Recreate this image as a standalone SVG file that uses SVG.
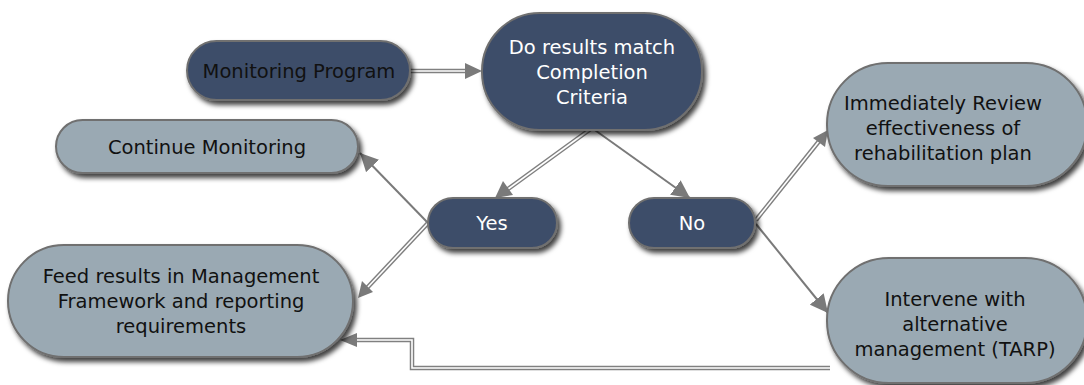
<svg xmlns="http://www.w3.org/2000/svg" width="1084" height="385" viewBox="0 0 1084 385">
<defs>
<filter id="sh" x="-20%" y="-20%" width="140%" height="150%">
<feDropShadow dx="3" dy="4" stdDeviation="2.5" flood-color="#000" flood-opacity="0.75"/>
</filter>
<marker id="ah" viewBox="0 0 10 10" refX="10" refY="5" markerWidth="18" markerHeight="18" markerUnits="userSpaceOnUse" orient="auto">
<path d="M0,0 L10,5 L0,10 z" fill="#7a7a7a"/>
</marker>
</defs>
<style>
.dark{fill:#3e4d69;stroke:#6f6f6f;stroke-width:2;filter:url(#sh)}
.light{fill:#9aa9b3;stroke:#6f6f6f;stroke-width:2;filter:url(#sh)}
text{font-family:"DejaVu Sans",Verdana,sans-serif;font-size:19.5px;text-anchor:middle}
.wt{fill:#ffffff}
.bt{fill:#111111}
.dbl{fill:none;stroke:#808080;stroke-width:4.5}
.core{fill:none;stroke:#ffffff;stroke-width:1.6}
.sgl{fill:none;stroke:#7a7a7a;stroke-width:2}
</style>
<g id="connectors">
<path class="dbl" d="M410,71 L470,71" />
<path class="core" d="M410,71 L470,71" />
<path d="M465,63 L482,71 L465,79 z" fill="#7a7a7a"/>
<path class="dbl" d="M592,128 L508,189" />
<path class="core" d="M592,128 L508,189" />
<path d="M495,198 L503,181 L513,195 z" fill="#7a7a7a"/>
<path class="sgl" d="M592,128 L690,198" marker-end="url(#ah)"/>
<path class="sgl" d="M428,223 L360,153" marker-end="url(#ah)"/>
<path class="dbl" d="M428,223 L366,289" />
<path class="core" d="M428,223 L366,289" />
<path d="M358,298 L362,281 L373,292 z" fill="#7a7a7a"/>
<path class="dbl" d="M756,220 L820,140" />
<path class="core" d="M756,220 L820,140" />
<path d="M828,130 L825,147 L813,138 z" fill="#7a7a7a"/>
<path class="sgl" d="M756,224 L828,313" marker-end="url(#ah)"/>
<path class="dbl" d="M830,368 L412,368 L412,340 L354,340" />
<path class="core" d="M830,368 L412,368 L412,340 L354,340" />
<path d="M340,340 L357,333 L357,347 z" fill="#7a7a7a"/>
</g>
<g id="monitoring-program">
<rect class="dark" x="187" y="41" width="223" height="59" rx="29.5"/>
<text class="bt" x="299" y="78">Monitoring Program</text>
</g>
<g id="do-results">
<rect class="dark" x="482" y="13" width="220" height="117" rx="58"/>
<text class="wt" x="592" y="54">Do results match</text>
<text class="wt" x="592" y="79">Completion</text>
<text class="wt" x="592" y="104">Criteria</text>
</g>
<g id="continue-monitoring">
<rect class="light" x="56" y="120" width="302" height="53" rx="26.5"/>
<text class="bt" x="207" y="154">Continue Monitoring</text>
</g>
<g id="yes">
<rect class="dark" x="428" y="198" width="129" height="50" rx="25"/>
<text class="wt" x="492" y="230">Yes</text>
</g>
<g id="no">
<rect class="dark" x="629" y="198" width="126" height="50" rx="25"/>
<text class="wt" x="692" y="230">No</text>
</g>
<g id="feed-results">
<rect class="light" x="8" y="245" width="345" height="112" rx="56"/>
<text class="bt" x="181" y="283">Feed results in Management</text>
<text class="bt" x="181" y="308">Framework and reporting</text>
<text class="bt" x="181" y="333">requirements</text>
</g>
<g id="immediately-review">
<rect class="light" x="827" y="63" width="260" height="123" rx="61"/>
<text class="bt" x="943" y="110">Immediately Review</text>
<text class="bt" x="943" y="135">effectiveness of</text>
<text class="bt" x="943" y="160">rehabilitation plan</text>
</g>
<g id="intervene">
<rect class="light" x="827" y="258" width="260" height="125" rx="62"/>
<text class="bt" x="955" y="306">Intervene with</text>
<text class="bt" x="955" y="331">alternative</text>
<text class="bt" x="955" y="356">management (TARP)</text>
</g>
</svg>
